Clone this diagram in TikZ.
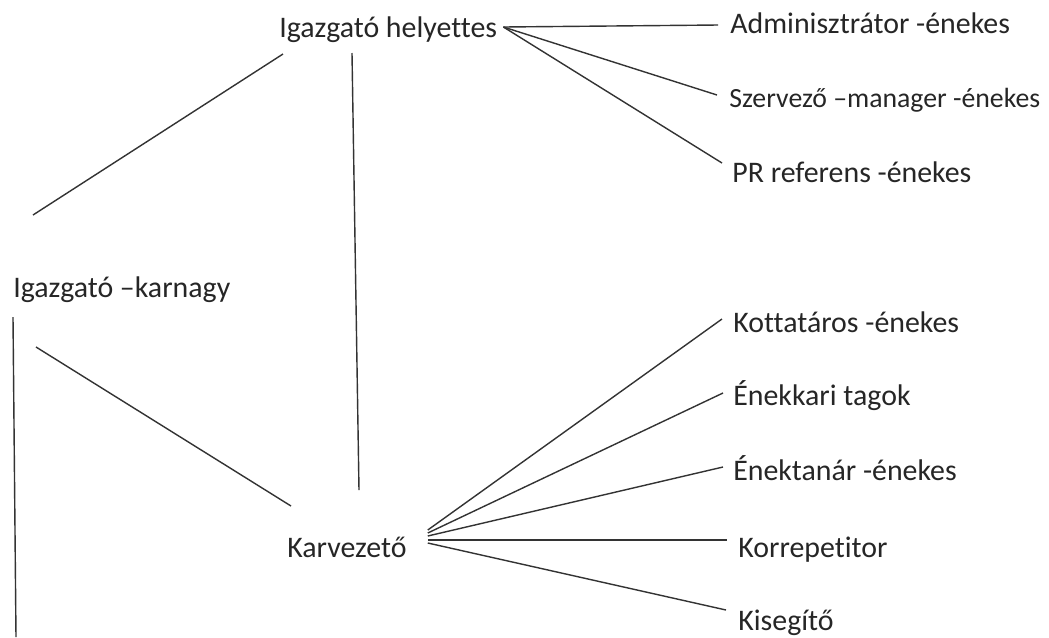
\documentclass[tikz,border=0pt]{standalone}
\usepackage{fontspec}
\setmainfont{Carlito}[Ligatures=NoCommon]
\begin{document}
\begin{tikzpicture}[x=0.02cm,y=-0.02cm,
    role/.style={anchor=base west,inner sep=0pt,font=\fontsize{17}{20}\selectfont,text=black!85},
    link/.style={line width=0.8pt,draw=black!80}]
    \useasboundingbox (0,0) rectangle (1049,637);
    % Leaders
    \node[role] (helyettes) at (279,37) {Igazgató helyettes};
    \node[role] (karnagy) at (13,297) {Igazgató –karnagy};
    \node[role] (karvezeto) at (287,557) {Karvezető};
    % Under the deputy
    \node[role] (admin) at (730,33) {Adminisztrátor -énekes};
    \node[role,font=\fontsize{15.8}{20}\selectfont] (szervezo) at (729,107) {Szervező –manager -énekes};
    \node[role] (pr) at (732,182) {PR referens -énekes};
    % Under the choir leader
    \node[role] (kotta) at (733,332) {Kottatáros -énekes};
    \node[role] (enekkari) at (733,405) {Énekkari tagok};
    \node[role] (enektanar) at (733,480) {Énektanár -énekes};
    \node[role] (korrep) at (738,557) {Korrepetitor};
    \node[role] (kisegito) at (738,630) {Kisegítő};
    \coordinate (lapalja) at (16,637);
    % Deputy fan
    \draw[link] ([shift={(6,-10)}]helyettes.base east) -- ([shift={(-12,-8)}]admin.base west);
    \draw[link] ([shift={(6,-10)}]helyettes.base east) -- ([shift={(-12,-12)}]szervezo.base west);
    \draw[link] ([shift={(6,-10)}]helyettes.base east) -- ([shift={(-10,-19)}]pr.base west);
    % Between the leaders
    \draw[link] ([shift={(4,17)}]helyettes.base west) -- ([shift={(20,-82)}]karnagy.base west);
    \draw[link] ([shift={(73,16)}]helyettes.base west) -- ([shift={(72,-67)}]karvezeto.base west);
    \draw[link] ([shift={(23,50)}]karnagy.base west) -- ([shift={(4,-51)}]karvezeto.base west);
    \draw[link] ([shift={(0,20)}]karnagy.base west) -- (lapalja);
    % Choir leader fan
    \draw[link] ([shift={(21,-27)}]karvezeto.base east) -- ([shift={(-11,-13)}]kotta.base west);
    \draw[link] ([shift={(21,-24)}]karvezeto.base east) -- ([shift={(-10,-12)}]enekkari.base west);
    \draw[link] ([shift={(21,-21)}]karvezeto.base east) -- ([shift={(-10,-13)}]enektanar.base west);
    \draw[link] ([shift={(21,-17)}]karvezeto.base east) -- ([shift={(-11,-17)}]korrep.base west);
    \draw[link] ([shift={(21,-14)}]karvezeto.base east) -- ([shift={(-12,-20)}]kisegito.base west);
\end{tikzpicture}
\end{document}
